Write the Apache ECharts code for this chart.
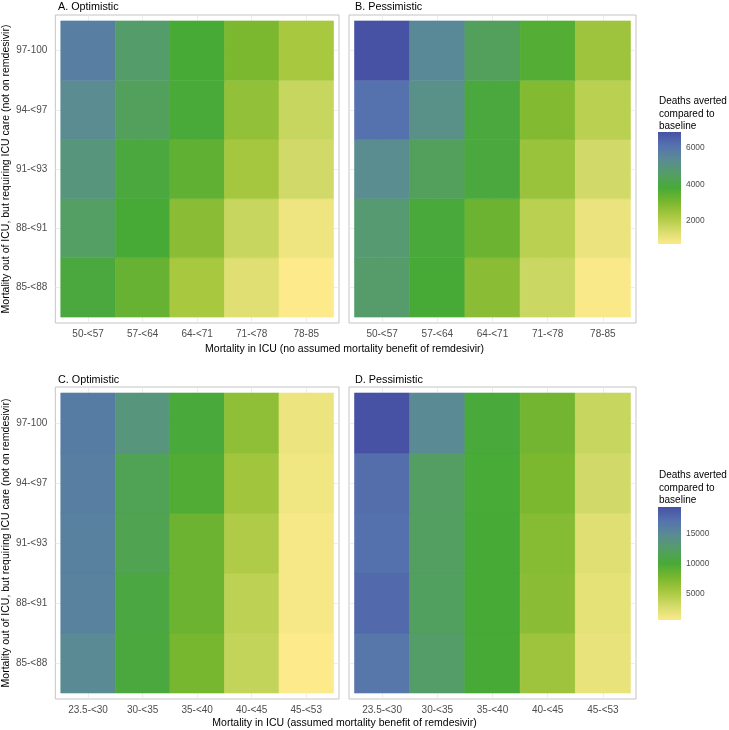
<!DOCTYPE html>
<html><head><meta charset="utf-8">
<script src="https://cdn.jsdelivr.net/npm/echarts@6/dist/echarts.min.js"></script>
<style>html,body{margin:0;padding:0;background:#fff}#c{width:729px;height:730px}</style>
</head><body><div id="c"></div>
<script>
// ---------- data ----------
const yCats = ['85-<88', '88-<91', '91-<93', '94-<97', '97-100'];           // bottom -> top
const xCatsTop = ['50-<57', '57-<64', '64-<71', '71-<78', '78-85'];
const xCatsBottom = ['23.5-<30', '30-<35', '35-<40', '40-<45', '45-<53'];
const panelTitles = ['A. Optimistic', 'B. Pessimistic', 'C. Optimistic', 'D. Pessimistic'];
const xTitleTop = 'Mortality in ICU (no assumed mortality benefit of remdesivir)';
const xTitleBottom = 'Mortality in ICU (assumed mortality benefit of remdesivir)';
const yTitle = 'Mortality out of ICU, but requiring ICU care (not on remdesivir)';
const legendTitle = 'Deaths averted\ncompared to\nbaseline';
const legendTicksTop = [2000, 4000, 6000];
const legendTicksBottom = [5000, 10000, 15000];

// each row = one y category (bottom -> top), columns = x categories
const valuesA = [
  [3930, 3320, 2270, 1290, 740],
  [4540, 3810, 2770, 1720, 990],
  [4970, 3930, 3440, 2330, 1540],
  [5340, 4420, 3850, 2640, 1720],
  [5770, 4670, 3810, 3010, 2270]
];
const valuesB = [
  [4650, 3810, 2770, 1660, 800],
  [4750, 3870, 3260, 1970, 1050],
  [5300, 4420, 3930, 2520, 1540],
  [6140, 5160, 3930, 2890, 1970],
  [6877, 5470, 4420, 3620, 2460]
];
const valuesC = [
  [14980, 10460, 7820, 3870, 667],
  [15730, 10650, 8390, 4240, 950],
  [15920, 11400, 8390, 5000, 1040],
  [16110, 11590, 9710, 5750, 1330],
  [16300, 13660, 10270, 6690, 1610]
];
const valuesD = [
  [16800, 12530, 10080, 5940, 1800],
  [17800, 12100, 10080, 6880, 1990],
  [17300, 12200, 10080, 7070, 2360],
  [17500, 12340, 10150, 7630, 3120],
  [19500, 14980, 10300, 8010, 3680]
];

const PALETTE = ['#FCEA8B', '#D3DB6A', '#A8C840', '#79B72F', '#48AA36', '#549E66', '#5A8C92', '#5673AE', '#4752A4'];

// ---------- helpers ----------
const FONT = 'Liberation Sans, Arial, sans-serif';
const toTriples = m => { const out = []; m.forEach((row, yi) => row.forEach((v, xi) => out.push([xi, yi, v]))); return out; };
const flat = m => [].concat(...m);
const rowTopVals = flat(valuesA).concat(flat(valuesB));
const rowBotVals = flat(valuesC).concat(flat(valuesD));
const lo1 = Math.min(...rowTopVals), hi1 = Math.max(...rowTopVals);
const lo2 = Math.min(...rowBotVals), hi2 = Math.max(...rowBotVals);
const idx = [0, 1, 2, 3, 4];

const panels = [
  {left: 53, top: 15, width: 286, height: 308},
  {left: 349, top: 15, width: 287, height: 308},
  {left: 53, top: 387, width: 286, height: 312},
  {left: 349, top: 387, width: 287, height: 312}
];
const legendGrids = [
  {left: 658, top: 132, width: 23, height: 112},
  {left: 658, top: 507, width: 23, height: 113}
];

const grid = panels.map(p => Object.assign({show: true, borderColor: '#C4C4C4', borderWidth: 1, backgroundColor: 'transparent'}, p))
  .concat(legendGrids.map(p => Object.assign({show: false}, p)));

const tickStyle = {lineStyle: {color: '#B3B3B3', width: 0.8}, length: 3};
const splitStyle = {show: true, lineStyle: {color: '#E8E8E8', width: 0.8}};
const labelStyle = {color: '#4D4D4D', fontSize: 10, fontFamily: FONT};

const xAxis = [], yAxis = [];
panels.forEach((p, i) => {
  const cats = i < 2 ? xCatsTop : xCatsBottom;
  xAxis.push({
    type: 'value', gridIndex: i, min: -0.6, max: 4.6,
    axisLine: {show: false},
    axisTick: Object.assign({show: true, customValues: idx}, tickStyle),
    axisLabel: Object.assign({show: true, customValues: idx, margin: 6, formatter: v => cats[Math.round(v)]}, labelStyle),
    splitLine: splitStyle
  });
  const isLeft = i % 2 === 0;
  yAxis.push({
    type: 'value', gridIndex: i, min: -0.6, max: 4.6,
    axisLine: {show: false},
    axisTick: Object.assign({show: isLeft, customValues: idx}, tickStyle),
    axisLabel: Object.assign({show: isLeft, customValues: idx, margin: 8, formatter: v => yCats[Math.round(v)]}, labelStyle),
    splitLine: splitStyle,
    name: isLeft ? yTitle : '', nameLocation: 'middle', nameGap: 40,
    nameTextStyle: {color: '#000', fontSize: 10.5, fontFamily: FONT}
  });
});
// legend colour bars
[[lo1, hi1, legendTicksTop], [lo2, hi2, legendTicksBottom]].forEach(([lo, hi, ticks], k) => {
  const gi = 4 + k;
  xAxis.push({type: 'value', gridIndex: gi, min: 0, max: 1, show: false});
  yAxis.push({
    type: 'value', gridIndex: gi, min: lo, max: hi, position: 'right',
    axisLine: {show: false}, splitLine: {show: false},
    axisTick: {show: true, inside: true, length: 4, customValues: ticks, lineStyle: {color: '#fff', width: 1}},
    axisLabel: {show: true, customValues: ticks, margin: 5, color: '#4D4D4D', fontSize: 8.4, fontFamily: FONT, formatter: v => String(v)}
  });
  yAxis.push({
    type: 'value', gridIndex: gi, min: lo, max: hi, position: 'left',
    axisLine: {show: false}, splitLine: {show: false}, axisLabel: {show: false},
    axisTick: {show: true, inside: true, length: 4, customValues: ticks, lineStyle: {color: '#fff', width: 1}}
  });
});

const tileRender = (params, api) => {
  const x = api.value(0), y = api.value(1);
  const p1 = api.coord([x - 0.5, y + 0.5]);
  const p2 = api.coord([x + 0.5, y - 0.5]);
  const c = api.visual('color');
  return {type: 'rect', shape: {x: p1[0], y: p1[1], width: p2[0] - p1[0], height: p2[1] - p1[1]},
    style: {fill: c, stroke: c, lineWidth: 0.6}};
};

const series = [valuesA, valuesB, valuesC, valuesD].map((m, i) => ({
  type: 'custom', xAxisIndex: i, yAxisIndex: i,
  dimensions: ['x', 'y', 'value'], encode: {x: 0, y: 1},
  data: toTriples(m), renderItem: tileRender, silent: true
}));
const gradStops = PALETTE.map((c, i) => ({offset: 1 - i / (PALETTE.length - 1), color: c}));
[[lo1, hi1], [lo2, hi2]].forEach(([lo, hi], k) => {
  series.push({
    type: 'custom', xAxisIndex: 4 + k, yAxisIndex: 4 + 2 * k, silent: true,
    data: [[0, lo, 1, hi]],
    renderItem: (params, api) => {
      const a = api.coord([api.value(0), api.value(3)]);
      const b = api.coord([api.value(2), api.value(1)]);
      return {type: 'rect', z2: -1, shape: {x: a[0], y: a[1], width: b[0] - a[0], height: b[1] - a[1]},
        style: {fill: new echarts.graphic.LinearGradient(0, 0, 0, 1, gradStops)}};
    }
  });
});

const txt = (text, x, y, opts) => ({type: 'text', x, y, style: Object.assign({text, fill: '#000', font: '10.5px ' + FONT}, opts || {})});
const graphic = [
  txt(panelTitles[0], 58, 7, {textVerticalAlign: 'middle', font: '10.8px ' + FONT}),
  txt(panelTitles[1], 355, 7, {textVerticalAlign: 'middle', font: '10.8px ' + FONT}),
  txt(panelTitles[2], 58, 380, {textVerticalAlign: 'middle', font: '10.8px ' + FONT}),
  txt(panelTitles[3], 355, 380, {textVerticalAlign: 'middle', font: '10.8px ' + FONT}),
  txt(xTitleTop, 344.5, 349, {textAlign: 'center', textVerticalAlign: 'middle'}),
  txt(xTitleBottom, 344.5, 723, {textAlign: 'center', textVerticalAlign: 'middle'}),
  txt(legendTitle, 659, 95, {font: '10px ' + FONT, lineHeight: 12.5, textVerticalAlign: 'top'}),
  txt(legendTitle, 659, 469, {font: '10px ' + FONT, lineHeight: 12.5, textVerticalAlign: 'top'})
];

const chart = echarts.init(document.getElementById('c'), null, {renderer: 'canvas'});
chart.setOption({
  animation: false,
  backgroundColor: '#fff',
  grid, xAxis, yAxis, series, graphic,
  visualMap: [
    {type: 'continuous', show: false, seriesIndex: [0, 1], dimension: 2, min: lo1, max: hi1, inRange: {color: PALETTE}},
    {type: 'continuous', show: false, seriesIndex: [2, 3], dimension: 2, min: lo2, max: hi2, inRange: {color: PALETTE}}
  ]
});
</script></body></html>
